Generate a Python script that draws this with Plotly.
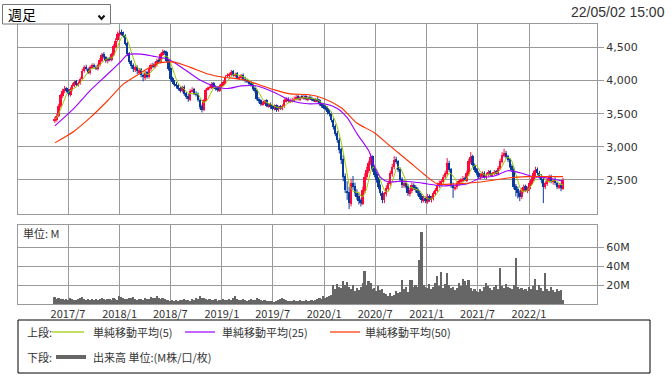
import plotly.graph_objects as go
import pandas as pd

# ---------------- data (weekly) ----------------
week_start = "2017-05-15"
n_weeks = 260

opens = [3400, 3410, 3470, 3610, 3770, 3840, 3890, 3850, 3790, 3870,
         3920, 3990, 3930, 3960, 4030, 4140, 4210, 4180, 4110, 4190,
         4240, 4200, 4180, 4230, 4300, 4400, 4350, 4290, 4340, 4310,
         4390, 4510, 4610, 4690, 4730, 4720, 4690, 4570, 4410, 4290,
         4230, 4160, 4210, 4130, 4170, 4090, 4040, 4130, 4050, 4170,
         4240, 4210, 4240, 4310, 4280, 4390, 4440, 4430, 4310, 4190,
         4040, 3990, 3950, 3930, 3890, 3840, 3910, 3810, 3770, 3710,
         3840, 3870, 3810, 3800, 3710, 3610, 3550, 3690, 3870, 3890,
         3890, 3960, 3910, 3890, 3850, 3910, 3940, 3970, 4070, 4070,
         4090, 4140, 4070, 4110, 4030, 4050, 4090, 4030, 4010, 3990,
         3970, 3950, 3890, 3860, 3730, 3700, 3640, 3660, 3700, 3610,
         3650, 3610, 3570, 3630, 3550, 3610, 3570, 3610, 3690, 3730,
         3680, 3690, 3700, 3720, 3770, 3710, 3760, 3730, 3770, 3710,
         3750, 3740, 3720, 3690, 3730, 3700, 3650, 3630, 3610, 3590,
         3530, 3510, 3410, 3310, 3210, 3110, 2970, 2820, 2560, 2340,
         2320, 2140, 2460, 2410, 2310, 2260, 2190, 2140, 2340, 2540,
         2640, 2760, 2860, 2660, 2590, 2510, 2410, 2310, 2190, 2290,
         2370, 2440, 2590, 2690, 2810, 2790, 2660, 2510, 2410, 2460,
         2410, 2290, 2340, 2430, 2390, 2360, 2310, 2260, 2190, 2230,
         2170, 2260, 2190, 2220, 2290, 2340, 2410, 2440, 2470, 2540,
         2590, 2760, 2660, 2430, 2370, 2390, 2440, 2470, 2490, 2530,
         2490, 2590, 2770, 2860, 2730, 2660, 2610, 2540, 2570, 2610,
         2540, 2570, 2630, 2570, 2590, 2630, 2590, 2670, 2770, 2870,
         2910, 2860, 2810, 2710, 2660, 2410, 2360, 2310, 2240, 2340,
         2410, 2340, 2370, 2440, 2510, 2590, 2660, 2610, 2560, 2510,
         2390, 2440, 2490, 2560, 2470, 2510, 2460, 2390, 2430, 2370]

highs = [3450, 3500, 3650, 3800, 3880, 3920, 3900, 3870, 3900, 3960,
         4000, 4010, 3990, 4050, 4180, 4230, 4240, 4200, 4230, 4260,
         4260, 4230, 4260, 4340, 4420, 4430, 4370, 4350, 4360, 4420,
         4550, 4640, 4740, 4760, 4770, 4740, 4700, 4590, 4430, 4310,
         4260, 4230, 4230, 4190, 4190, 4110, 4150, 4150, 4200, 4260,
         4270, 4280, 4330, 4340, 4420, 4470, 4460, 4450, 4330, 4200,
         4060, 4010, 3980, 3950, 3910, 3920, 3930, 3830, 3800, 3870,
         3900, 3890, 3840, 3820, 3730, 3640, 3720, 3880, 3910, 3930,
         3980, 3980, 3930, 3910, 3940, 3980, 4000, 4080, 4110, 4120,
         4160, 4160, 4120, 4130, 4080, 4100, 4110, 4060, 4030, 4010,
         3990, 3970, 3910, 3870, 3750, 3720, 3690, 3710, 3720, 3660,
         3670, 3630, 3640, 3640, 3620, 3630, 3640, 3730, 3750, 3750,
         3730, 3740, 3760, 3790, 3790, 3770, 3790, 3790, 3790, 3770,
         3780, 3760, 3740, 3740, 3750, 3720, 3670, 3660, 3630, 3610,
         3560, 3530, 3430, 3340, 3240, 3140, 2990, 2880, 2600, 2480,
         2400, 2520, 2560, 2460, 2360, 2300, 2220, 2400, 2600, 2700,
         2790, 2900, 2870, 2700, 2620, 2540, 2430, 2330, 2320, 2420,
         2490, 2640, 2740, 2860, 2850, 2800, 2690, 2540, 2500, 2490,
         2440, 2380, 2460, 2450, 2420, 2390, 2340, 2290, 2260, 2250,
         2290, 2280, 2260, 2330, 2380, 2460, 2490, 2510, 2580, 2640,
         2830, 2790, 2680, 2460, 2430, 2480, 2510, 2530, 2560, 2550,
         2640, 2820, 2920, 2880, 2750, 2680, 2630, 2600, 2630, 2630,
         2610, 2650, 2650, 2620, 2650, 2650, 2710, 2820, 2920, 2970,
         2940, 2880, 2830, 2740, 2690, 2440, 2400, 2340, 2380, 2430,
         2430, 2400, 2480, 2560, 2640, 2700, 2690, 2640, 2590, 2530,
         2480, 2530, 2580, 2580, 2520, 2540, 2470, 2450, 2450, 2530]

lows = [3360, 3380, 3450, 3590, 3740, 3810, 3820, 3760, 3760, 3850,
        3900, 3920, 3910, 3940, 4010, 4120, 4150, 4100, 4090, 4170,
        4180, 4160, 4150, 4210, 4280, 4330, 4270, 4260, 4290, 4290,
        4370, 4490, 4590, 4670, 4680, 4650, 4530, 4370, 4250, 4180,
        4130, 4130, 4100, 4100, 4050, 3990, 4010, 4030, 4030, 4140,
        4190, 4180, 4210, 4260, 4260, 4370, 4390, 4280, 4150, 4000,
        3950, 3910, 3880, 3850, 3820, 3820, 3770, 3720, 3680, 3690,
        3820, 3780, 3760, 3680, 3570, 3520, 3540, 3680, 3850, 3870,
        3870, 3880, 3850, 3830, 3830, 3890, 3920, 3950, 4040, 4050,
        4070, 4060, 4050, 4020, 4010, 4030, 4000, 3970, 3960, 3930,
        3910, 3860, 3820, 3700, 3660, 3620, 3620, 3640, 3600, 3590,
        3570, 3550, 3550, 3530, 3530, 3560, 3550, 3590, 3670, 3670,
        3660, 3670, 3680, 3700, 3700, 3690, 3720, 3710, 3700, 3690,
        3710, 3690, 3680, 3670, 3670, 3620, 3590, 3570, 3550, 3490,
        3460, 3370, 3260, 3160, 3060, 2900, 2740, 2480, 2300, 2200,
        2060, 2100, 2350, 2260, 2200, 2130, 2100, 2120, 2300, 2500,
        2600, 2720, 2620, 2540, 2460, 2360, 2260, 2150, 2150, 2250,
        2330, 2410, 2550, 2660, 2740, 2620, 2470, 2380, 2380, 2370,
        2260, 2250, 2300, 2350, 2310, 2260, 2210, 2150, 2160, 2150,
        2140, 2170, 2160, 2190, 2260, 2320, 2380, 2410, 2450, 2510,
        2560, 2620, 2380, 2230, 2340, 2360, 2410, 2450, 2470, 2480,
        2470, 2560, 2740, 2700, 2620, 2570, 2520, 2510, 2540, 2520,
        2510, 2550, 2560, 2550, 2570, 2580, 2570, 2650, 2750, 2840,
        2820, 2770, 2680, 2620, 2360, 2250, 2220, 2180, 2210, 2310,
        2320, 2300, 2340, 2410, 2480, 2560, 2570, 2520, 2450, 2150,
        2360, 2410, 2460, 2450, 2430, 2420, 2360, 2360, 2330, 2350]

closes = [3420, 3460, 3620, 3780, 3850, 3880, 3840, 3800, 3880, 3930,
          3980, 3940, 3970, 4020, 4150, 4200, 4170, 4120, 4200, 4230,
          4210, 4190, 4240, 4310, 4390, 4360, 4300, 4330, 4320, 4400,
          4520, 4600, 4700, 4720, 4710, 4680, 4560, 4400, 4280, 4220,
          4170, 4200, 4140, 4160, 4080, 4050, 4120, 4060, 4180, 4230,
          4220, 4250, 4300, 4290, 4400, 4430, 4420, 4300, 4180, 4030,
          3980, 3940, 3920, 3880, 3850, 3900, 3800, 3760, 3720, 3850,
          3860, 3800, 3790, 3700, 3600, 3560, 3700, 3860, 3880, 3900,
          3950, 3900, 3880, 3860, 3920, 3950, 3980, 4060, 4080, 4100,
          4130, 4080, 4100, 4040, 4060, 4080, 4020, 4000, 3980, 3960,
          3940, 3880, 3850, 3720, 3690, 3650, 3670, 3690, 3620, 3640,
          3600, 3580, 3620, 3560, 3600, 3580, 3620, 3700, 3720, 3690,
          3700, 3710, 3730, 3760, 3720, 3750, 3740, 3760, 3720, 3740,
          3730, 3710, 3700, 3720, 3690, 3640, 3620, 3600, 3580, 3520,
          3500, 3400, 3300, 3200, 3100, 2950, 2800, 2550, 2350, 2300,
          2150, 2450, 2400, 2300, 2250, 2180, 2150, 2350, 2550, 2650,
          2750, 2850, 2650, 2580, 2500, 2400, 2300, 2200, 2300, 2380,
          2450, 2600, 2700, 2800, 2780, 2650, 2500, 2420, 2450, 2400,
          2300, 2350, 2420, 2380, 2350, 2300, 2250, 2200, 2220, 2180,
          2250, 2200, 2230, 2300, 2350, 2420, 2450, 2480, 2550, 2600,
          2750, 2650, 2420, 2380, 2400, 2450, 2480, 2500, 2520, 2500,
          2600, 2780, 2850, 2720, 2650, 2600, 2550, 2580, 2600, 2550,
          2580, 2620, 2580, 2600, 2620, 2600, 2680, 2780, 2880, 2900,
          2850, 2800, 2700, 2650, 2400, 2350, 2300, 2250, 2350, 2400,
          2350, 2380, 2450, 2520, 2600, 2650, 2600, 2550, 2500, 2400,
          2450, 2500, 2550, 2480, 2500, 2450, 2400, 2420, 2380, 2500]

volumes_m = [7, 5, 6, 5, 5, 4, 5, 4, 6, 5,
             4, 4, 5, 6, 7, 5, 4, 5, 4, 5,
             4, 5, 4, 5, 6, 5, 4, 5, 5, 4,
             6, 5, 4, 8, 7, 6, 5, 5, 6, 6,
             7, 5, 4, 5, 5, 4, 6, 5, 5, 7,
             6, 6, 9, 6, 5, 6, 5, 4, 4, 3,
             4, 3, 4, 3, 4, 4, 5, 4, 4, 3,
             5, 4, 6, 5, 8, 6, 6, 5, 4, 5,
             4, 4, 5, 3, 4, 4, 5, 4, 4, 5,
             4, 6, 8, 5, 4, 4, 5, 4, 3, 4,
             5, 4, 4, 6, 5, 4, 3, 4, 3, 3,
             3, 3, 2, 3, 4, 5, 6, 5, 4, 3,
             3, 3, 4, 3, 3, 4, 3, 3, 4, 3,
             3, 4, 3, 4, 5, 6, 5, 8, 6, 7,
             8, 10, 20, 16, 21, 18, 17, 24, 20, 23,
             18, 16, 20, 14, 17, 15, 18, 22, 35, 20,
             24, 22, 16, 17, 14, 19, 15, 16, 12, 11,
             9, 12, 8, 10, 14, 12, 13, 25, 16, 18,
             13, 26, 25, 18, 20, 18, 47, 77, 20, 18,
             17, 21, 16, 18, 22, 30, 19, 34, 17, 21,
             33, 20, 17, 18, 15, 17, 22, 19, 27, 24,
             20, 25, 17, 14, 16, 14, 13, 16, 14, 18,
             22, 19, 17, 15, 18, 20, 16, 38, 19, 17,
             21, 18, 17, 16, 20, 49, 18, 16, 17, 15,
             16, 14, 18, 16, 19, 27, 15, 20, 17, 14,
             33, 16, 14, 18, 15, 13, 16, 14, 15, 4]

# moving averages 25 / 50 (week index, value)
ma25_week = [0, 10, 18, 27, 34, 37, 44, 50, 58, 61, 68, 74, 81, 88, 95, 103,
             112, 120, 129, 137, 144, 149, 154, 160, 163, 166, 170, 176, 183,
             190, 197, 203, 210, 217, 224, 231, 237, 244, 251, 259]
ma25_value = [3318, 3590, 3850, 4100, 4300, 4390, 4400, 4370, 4320, 4270,
              4130, 4010, 3920, 3880, 3920, 3920, 3820, 3700, 3650, 3650,
              3580, 3440, 3200, 2940, 2700, 2540, 2470, 2480, 2470, 2440,
              2410, 2420, 2440, 2530, 2560, 2640, 2610, 2550, 2530, 2480]
ma50_week = [0, 10, 18, 27, 35, 44, 52, 61, 69, 78, 86, 95, 103, 112, 120,
             129, 137, 146, 154, 163, 171, 180, 188, 195, 203, 217, 231, 241,
             254, 259]
ma50_value = [3060, 3240, 3440, 3700, 3950, 4120, 4260, 4280, 4200, 4100,
              4050, 4020, 3950, 3860, 3800, 3790, 3730, 3590, 3360, 3210,
              3010, 2790, 2590, 2440, 2440, 2470, 2530, 2550, 2550, 2550]

tick_dates = ["2017-07-01", "2018-01-01", "2018-07-01", "2019-01-01", "2019-07-01",
              "2020-01-01", "2020-07-01", "2021-01-01", "2021-07-01", "2022-01-01"]
tick_labels = ["2017/7", "2018/1", "2018/7", "2019/1", "2019/7",
               "2020/1", "2020/7", "2021/1", "2021/7", "2022/1"]
price_ticks = [2500, 3000, 3500, 4000, 4500]
volume_ticks = [20, 40, 60]
volume_tick_labels = ["20M", "40M", "60M"]

# ---------------- figure ----------------
weeks = pd.date_range(week_start, periods=n_weeks, freq="7D")
ma5 = pd.Series(closes).rolling(5, min_periods=1).mean()
ma25_x = [weeks[i] for i in ma25_week]
ma50_x = [weeks[i] for i in ma50_week]

W, H = 672, 376
L, R, T, B = 18, 597, 24, 304


def px(x):
    return (x - L) / (R - L)


def py(y):
    return (B - y) / (B - T)


RED = "#ff0a3c"
BLUE = "#0b3a9c"
GRID = "#9a9a9a"
TXT = "#333333"
JP = "Noto Sans CJK JP"
NUM = "DejaVu Sans"
DAY_MS = 86400000

fig = go.Figure()

# candles: wick lines + body bars, split by direction
for up, col in [(True, RED), (False, BLUE)]:
    idx = [i for i in range(n_weeks) if (closes[i] >= opens[i]) == up]
    wx, wy = [], []
    for i in idx:
        wx += [weeks[i], weeks[i], None]
        wy += [lows[i], highs[i], None]
    fig.add_trace(go.Scatter(x=wx, y=wy, mode="lines", line=dict(color=col, width=1),
                             xaxis="x", yaxis="y", showlegend=False, hoverinfo="skip"))
    fig.add_trace(go.Bar(x=[weeks[i] for i in idx],
                         y=[abs(closes[i] - opens[i]) for i in idx],
                         base=[min(closes[i], opens[i]) for i in idx],
                         marker=dict(color=col, line=dict(width=0)),
                         width=7 * DAY_MS, xaxis="x", yaxis="y",
                         showlegend=False, hoverinfo="skip"))

fig.add_trace(go.Scatter(x=weeks, y=ma5, mode="lines",
                         line=dict(color="#99cc00", width=1),
                         xaxis="x", yaxis="y", showlegend=False))
fig.add_trace(go.Scatter(x=ma25_x, y=ma25_value, mode="lines",
                         line=dict(color="#9b00ff", width=1.1, shape="spline", smoothing=0.7),
                         xaxis="x", yaxis="y", showlegend=False))
fig.add_trace(go.Scatter(x=ma50_x, y=ma50_value, mode="lines",
                         line=dict(color="#ff3300", width=1.1, shape="spline", smoothing=0.7),
                         xaxis="x", yaxis="y", showlegend=False))
fig.add_trace(go.Bar(x=weeks, y=volumes_m, marker=dict(color="#666666", line=dict(width=0)),
                     width=6 * DAY_MS, xaxis="x2", yaxis="y2", showlegend=False))

x_range = ["2017-01-03 14:00", "2022-08-31 12:00"]
common_x = dict(type="date", range=x_range, tickvals=tick_dates, showgrid=True,
                gridcolor=GRID, gridwidth=1, showline=True, linecolor=GRID,
                linewidth=1, mirror=True, ticks="", zeroline=False)

fig.update_layout(
    width=W, height=H,
    margin=dict(l=L, r=W - R, t=T, b=H - B),
    paper_bgcolor="white", plot_bgcolor="white",
    barmode="overlay", bargap=0,
    xaxis=dict(**common_x, domain=[0, 1], anchor="y", showticklabels=False),
    xaxis2=dict(**common_x, domain=[0, 1], anchor="y2", matches="x",
                ticktext=tick_labels, showticklabels=True,
                tickfont=dict(family=JP, size=11, color=TXT)),
    yaxis=dict(domain=[py(214), 1], range=[1986, 4855], side="right",
               tickvals=price_ticks, tickformat=",d", showgrid=True,
               gridcolor=GRID, showline=True, linecolor=GRID, mirror=True,
               ticks="outside", ticklen=6, tickcolor=GRID, zeroline=False,
               tickfont=dict(family=NUM, size=11, color=TXT)),
    yaxis2=dict(domain=[0, py(225)], range=[0, 84], side="right",
                tickvals=volume_ticks, ticktext=volume_tick_labels,
                showgrid=True, gridcolor=GRID, showline=True, linecolor=GRID,
                mirror=True, ticks="outside", ticklen=6, tickcolor=GRID,
                zeroline=False, tickfont=dict(family=NUM, size=11, color=TXT)),
    hovermode=False,
)

shapes = []
# dropdown box
shapes.append(dict(type="rect", xref="paper", yref="paper",
                   x0=px(2.5), x1=px(110.5), y0=py(24), y1=py(4.5),
                   line=dict(color="#767676", width=1), fillcolor="white"))
shapes.append(dict(type="path", xref="paper", yref="paper",
                   path=f"M {px(98.5)},{py(15.5)} L {px(101.5)},{py(19)} L {px(104.5)},{py(15.5)}",
                   line=dict(color="#111111", width=2)))
# legend box
shapes.append(dict(type="rect", xref="paper", yref="paper",
                   x0=px(18), x1=px(650), y0=py(373), y1=py(320),
                   line=dict(color="#000000", width=1)))
for x0, x1, col, w, yy in [(52, 84, "#99cc00", 1.2, 332), (185, 215, "#9b00ff", 1.2, 332),
                           (330, 360, "#ff3300", 1.2, 332), (56, 86, "#666666", 4, 357)]:
    shapes.append(dict(type="line", xref="paper", yref="paper",
                       x0=px(x0), x1=px(x1), y0=py(yy), y1=py(yy),
                       line=dict(color=col, width=w)))

annotations = []


def note(text, x, y, size=11, anchor="left", family=JP, color=TXT):
    annotations.append(dict(text=text, xref="paper", yref="paper", x=px(x), y=py(y),
                            xanchor=anchor, yanchor="middle", showarrow=False,
                            font=dict(family=family, size=size, color=color)))


note("週足", 6, 14, size=14, color="#000000")
note("22/05/02 15:00", 667, 12, size=14, anchor="right", family="Liberation Sans")
note("単位: M", 21, 233)
note("上段:", 25, 332)
note("単純移動平均(5)", 91, 332)
note("単純移動平均(25)", 220, 332)
note("単純移動平均(50)", 363, 332)
note("下段:", 25, 357)
note("出来高 単位:(M株/口/枚)", 91, 357)

fig.update_layout(shapes=shapes, annotations=annotations)
fig.write_html("out.html", config={"displayModeBar": False},
               post_script="document.body.style.margin='0';")
